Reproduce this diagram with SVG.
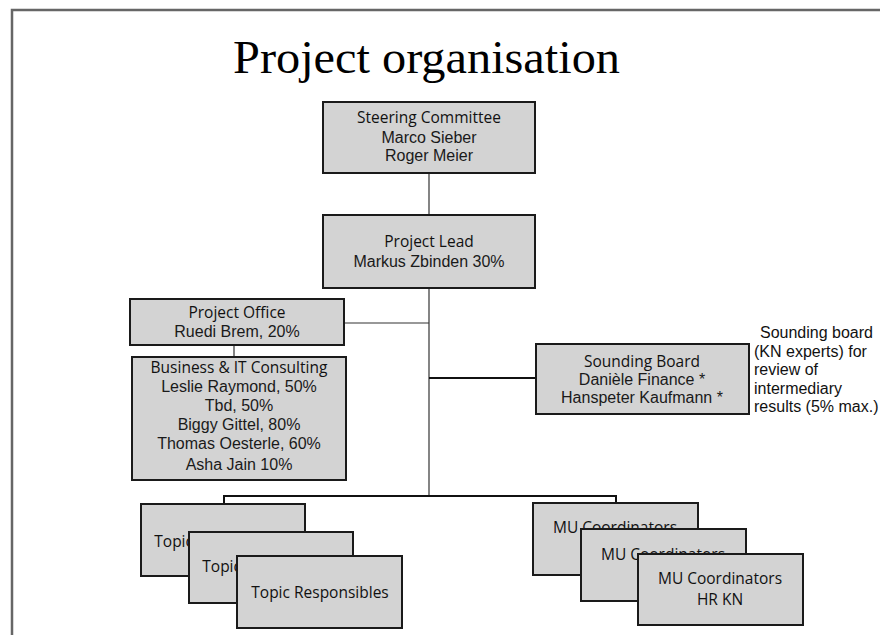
<svg xmlns="http://www.w3.org/2000/svg" width="880" height="635" viewBox="0 0 880 635">
  <style>
    .box { fill: #d3d3d3; stroke: #1a1a1a; stroke-width: 2; }
    .head { font-family: "Open Sans", "DejaVu Sans", sans-serif; font-size: 15.5px; font-weight: 500; fill: #111; text-anchor: middle; }
    .name { font-family: "Liberation Sans", Arial, sans-serif; font-size: 16px; fill: #1a1a1a; text-anchor: middle; }
    .note { font-family: "Liberation Sans", Arial, sans-serif; font-size: 16px; fill: #111; }
    .thin { stroke: #333; stroke-width: 1.2; fill: none; }
    .thick { stroke: #111; stroke-width: 2; fill: none; }
  </style>

  <rect width="880" height="635" fill="#ffffff"/>
  <!-- page frame -->
  <path d="M12,640 V10 H885" fill="none" stroke="#666" stroke-width="2.5"/>

  <text x="233" y="73" font-family="'Liberation Serif', 'Times New Roman', serif" font-size="47" textLength="387" lengthAdjust="spacingAndGlyphs" fill="#000">Project organisation</text>

  <!-- connectors -->
  <g id="connectors">
    <line class="thin" x1="429" y1="173" x2="429" y2="215"/>
    <line class="thin" x1="429" y1="288" x2="429" y2="496"/>
    <line class="thin" x1="344" y1="323" x2="429" y2="323"/>
    <line class="thin" x1="234" y1="345" x2="234" y2="365"/>
    <line class="thick" x1="429" y1="378" x2="536" y2="378"/>
    <path class="thick" d="M224,504 V496 H616 V503"/>
  </g>

  <g id="steering-committee">
    <rect class="box" x="323" y="102" width="212" height="71"/>
    <text class="head" x="429" y="123">Steering Committee</text>
    <text class="name" x="429" y="143">Marco Sieber</text>
    <text class="name" x="429" y="161">Roger Meier</text>
  </g>

  <g id="project-lead">
    <rect class="box" x="323" y="215" width="212" height="73"/>
    <text class="head" x="429" y="247">Project Lead</text>
    <text class="name" x="429" y="267">Markus Zbinden 30%</text>
  </g>

  <g id="project-office">
    <rect class="box" x="130" y="299" width="214" height="46"/>
    <text class="head" x="237" y="318">Project Office</text>
    <text class="name" x="237" y="337">Ruedi Brem, 20%</text>
  </g>

  <g id="business-it-consulting">
    <rect class="box" x="132" y="357" width="214" height="123"/>
    <text class="head" x="239" y="373">Business &amp; IT Consulting</text>
    <text class="name" x="239" y="392">Leslie Raymond, 50%</text>
    <text class="name" x="239" y="411">Tbd, 50%</text>
    <text class="name" x="239" y="430">Biggy Gittel, 80%</text>
    <text class="name" x="239" y="449">Thomas Oesterle, 60%</text>
    <text class="name" x="239" y="470">Asha Jain 10%</text>
  </g>

  <g id="sounding-board">
    <rect class="box" x="536" y="344" width="213" height="70"/>
    <text class="head" x="642" y="367">Sounding Board</text>
    <text class="name" x="642" y="385">Danièle Finance *</text>
    <text class="name" x="642" y="403">Hanspeter Kaufmann *</text>
  </g>

  <!-- side remark, one wrapped paragraph -->
  <g id="sounding-board-note">
    <text class="note">
      <tspan x="760" y="338">Sounding board</tspan>
      <tspan x="754" y="356.5">(KN experts) for</tspan>
      <tspan x="754" y="375">review of</tspan>
      <tspan x="754" y="393.5">intermediary</tspan>
      <tspan x="754" y="412">results (5% max.)</tspan>
    </text>
  </g>

  <g id="topic-responsibles">
    <rect class="box" x="141" y="504" width="164" height="72"/>
    <text class="head" x="223" y="547">Topic Responsibles</text>
    <rect class="box" x="189" y="532" width="164" height="71"/>
    <text class="head" x="271" y="572">Topic Responsibles</text>
    <rect class="box" x="237" y="556" width="165" height="72"/>
    <text class="head" x="320" y="598">Topic Responsibles</text>
  </g>

  <g id="mu-coordinators">
    <rect class="box" x="533" y="503" width="165" height="72"/>
    <text class="head" x="615" y="533">MU Coordinators</text>
    <rect class="box" x="581" y="529" width="165" height="72"/>
    <text class="head" x="663" y="560">MU Coordinators</text>
    <rect class="box" x="638" y="554" width="165" height="71"/>
    <text class="head" x="720" y="584">MU Coordinators</text>
    <text class="head" x="720" y="605">HR KN</text>
  </g>
</svg>
